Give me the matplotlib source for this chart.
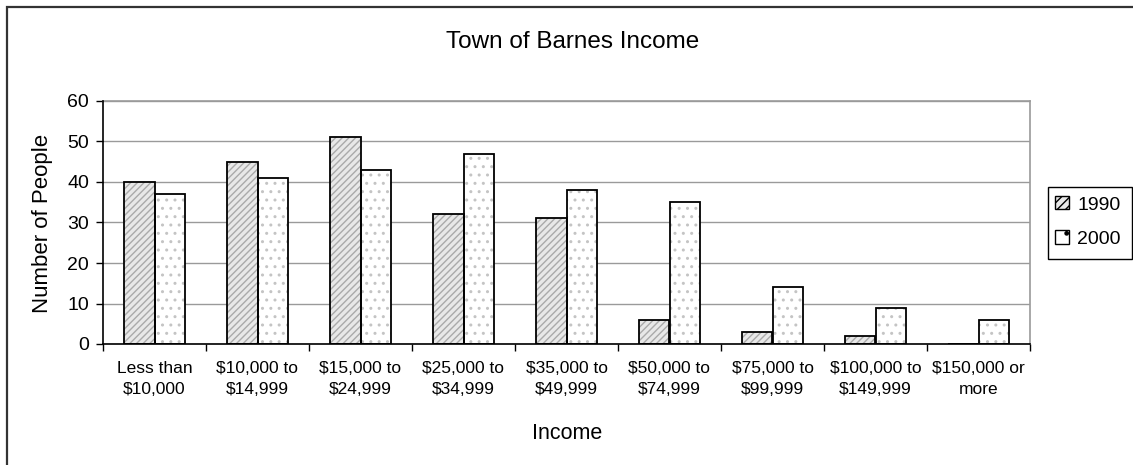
import matplotlib
matplotlib.use("Agg")
import matplotlib.pyplot as plt
from matplotlib.patches import Rectangle, Patch
import numpy as np

categories = ["Less than\n$10,000", "$10,000 to\n$14,999", "$15,000 to\n$24,999",
              "$25,000 to\n$34,999", "$35,000 to\n$49,999", "$50,000 to\n$74,999",
              "$75,000 to\n$99,999", "$100,000 to\n$149,999", "$150,000 or\nmore"]
values_1990 = [40, 45, 51, 32, 31, 6, 3, 2, 0]
values_2000 = [37, 41, 43, 47, 38, 35, 14, 9, 6]
series_names = ["1990", "2000"]
yticks = [0, 10, 20, 30, 40, 50, 60]

plt.rcParams['font.family'] = ['Liberation Sans', 'DejaVu Sans']
plt.rcParams['hatch.linewidth'] = 1.0

W, H = 1133, 465
fig = plt.figure(figsize=(W / 100, H / 100), dpi=100)
ax = fig.add_axes([103 / W, 1 - 344 / H, (1030 - 103) / W, (344 - 101) / H])

x = np.arange(len(categories))
bw = 0.3
ax.bar(x - bw / 2, values_1990, bw, color='#e8e8e8', edgecolor='#aaaaaa', hatch='/////',
       linewidth=0, zorder=3)
ax.bar(x - bw / 2, values_1990, bw, fill=False, edgecolor='black', linewidth=1.3, zorder=4)
ax.bar(x + bw / 2, values_2000, bw, color='white', edgecolor='#c4c4c4', hatch='..',
       linewidth=0, zorder=3)
ax.bar(x + bw / 2, values_2000, bw, fill=False, edgecolor='black', linewidth=1.3, zorder=4)

ax.set_xlim(-0.5, len(categories) - 0.5)
ax.set_ylim(0, 60)
ax.set_yticks(yticks)
ax.tick_params(axis='y', labelsize=14, direction='out', length=5, width=1, pad=5)
ax.set_xticks(np.arange(len(categories) + 1) - 0.5)
ax.set_xticklabels([])
ax.set_xticks(x, minor=True)
ax.set_xticklabels(categories, minor=True, fontsize=12.5, linespacing=1.5)
ax.tick_params(axis='x', which='major', direction='out', length=5, width=1)
ax.tick_params(axis='x', which='minor', length=0, pad=12)
ax.yaxis.grid(True, color='#9a9a9a', linewidth=1, zorder=0)
ax.set_axisbelow(True)
for s in ['top', 'right']:
    ax.spines[s].set_color('#9a9a9a')
    ax.spines[s].set_linewidth(1.2)
for s in ['left', 'bottom']:
    ax.spines[s].set_color('black')
    ax.spines[s].set_linewidth(1.2)
ax.spines['left'].set_zorder(5)
ax.spines['bottom'].set_zorder(5)

fig.text(43 / W, 1 - 223 / H, "Number of People", fontsize=16, rotation=90,
         ha='center', va='center')
fig.text(567 / W, 1 - 439 / H, "Income", fontsize=15.5, ha='center', va='baseline')
fig.text(573 / W, 1 - 48 / H, "Town of Barnes Income", fontsize=17.5, ha='center',
         va='baseline')

# legend
handles = [Patch(facecolor='#e8e8e8', edgecolor='#aaaaaa', hatch='////', linewidth=1),
           Patch(facecolor='white', edgecolor='#d0d0d0', hatch='.', linewidth=1)]
leg = fig.legend(handles, series_names, loc='upper left', bbox_to_anchor=(1051 / W, 1 - 192 / H),
                 fontsize=14, frameon=False,
                 handlelength=0.7, handleheight=0.7, handletextpad=0.45,
                 borderpad=0.2, labelspacing=0.85, borderaxespad=0)
for h in leg.legend_handles:
    h.set_edgecolor('black')
fig.patches.append(Rectangle((1048 / W, 1 - 259 / H), (1132 - 1048) / W, (259 - 187) / H,
                             transform=fig.transFigure, fill=False, edgecolor='black',
                             linewidth=1.0))

# outer chart border
fig.patches.append(Rectangle((7 / W, -0.1), 1.2, 1 - 7 / H + 0.1, transform=fig.transFigure,
                             fill=False, edgecolor='#333333', linewidth=1.6, clip_on=False))

fig.savefig("out.png", dpi=100)
